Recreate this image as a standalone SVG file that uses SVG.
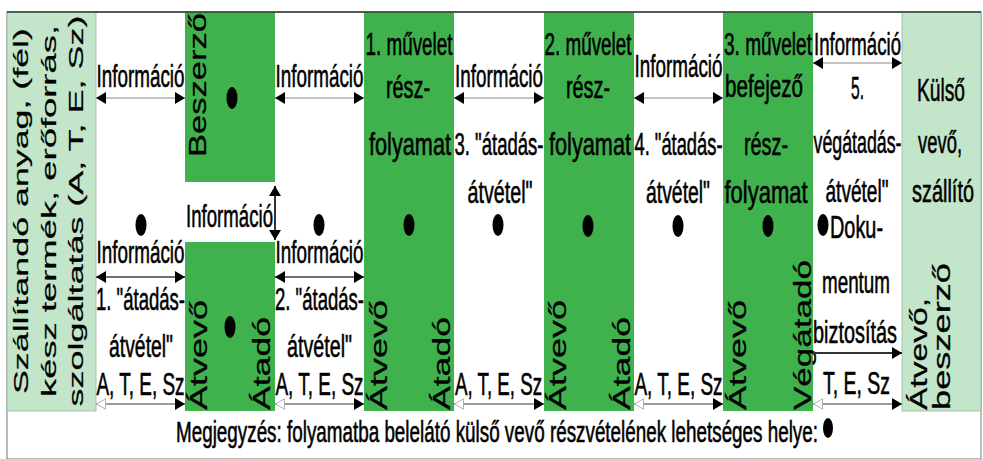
<svg xmlns="http://www.w3.org/2000/svg" width="983" height="459" viewBox="0 0 983 459">
<style>
text{font-family:"Liberation Sans",Arial,sans-serif;fill:#000}
.h{font-size:32px;text-anchor:middle;stroke:#000;stroke-width:0.6}
.v{font-size:23px;stroke:#000;stroke-width:0.25}
.c0{font-size:19.5px;text-anchor:middle;stroke:#000;stroke-width:0.2}
.g{fill:#3fb24e}
.lg{fill:#c3e6ca;stroke:#9ab59f;stroke-width:0.8}
.dot{fill:#000}
.at{stroke:#c4c4c4;stroke-width:2;fill:none}
.am{stroke:#707070;stroke-width:2;fill:none}
.ab{stroke:#9a9a9a;stroke-width:2;fill:none}
.ad{stroke:#333;stroke-width:2;fill:none}
</style>
<defs>
<marker id="ah" viewBox="0 0 10 12" refX="10" refY="6" markerWidth="10" markerHeight="12" orient="auto-start-reverse" markerUnits="userSpaceOnUse"><path d="M0,0 L10,6 L0,12 z" fill="#000"/></marker>
<marker id="ahh" viewBox="0 0 10 12" refX="10" refY="6" markerWidth="10" markerHeight="12" orient="auto-start-reverse" markerUnits="userSpaceOnUse"><path d="M0.5,0.8 L9.5,6 L0.5,11.2 z" fill="#fff" stroke="#b0b0b0" stroke-width="1"/></marker>
</defs>
<rect x="0" y="0" width="983" height="459" fill="#fff"/>
<rect x="7" y="12" width="974" height="447" fill="none" stroke="#777" stroke-width="1"/>

<g id="col0">
<rect class="lg" x="7" y="12" width="89" height="399"/>
<text class="c0" transform="translate(28,211) rotate(-90)" textLength="366" lengthAdjust="spacingAndGlyphs">Szállítandó anyag, (fél)</text>
<text class="c0" transform="translate(55.5,211) rotate(-90)" textLength="372" lengthAdjust="spacingAndGlyphs">kész termék, erőforrás,</text>
<text class="c0" transform="translate(83,211) rotate(-90)" textLength="391" lengthAdjust="spacingAndGlyphs">szolgáltatás (A, T, E, Sz)</text>
</g>

<g id="col1">
<text class="h" x="140.5" y="87" textLength="88" lengthAdjust="spacingAndGlyphs">Információ</text>
<ellipse class="dot" cx="141" cy="225" rx="5.5" ry="11"/>
<text class="h" x="140.5" y="263" textLength="88" lengthAdjust="spacingAndGlyphs">Információ</text>
<text class="h" x="140.5" y="310" textLength="89" lengthAdjust="spacingAndGlyphs">1. "átadás-</text>
<text class="h" x="141" y="357" textLength="64" lengthAdjust="spacingAndGlyphs">átvétel"</text>
<text class="h" x="140.5" y="395" textLength="88" lengthAdjust="spacingAndGlyphs">A, T, E, Sz</text>
</g>

<g id="col2">
<rect class="g" x="185" y="12" width="90" height="170"/>
<rect class="g" x="185" y="242" width="90" height="169"/>
<text class="v" transform="translate(206,157) rotate(-90)" textLength="144" lengthAdjust="spacingAndGlyphs">Beszerző</text>
<ellipse class="dot" cx="232" cy="98" rx="5.5" ry="11"/>
<text class="h" x="229.5" y="227" textLength="87" lengthAdjust="spacingAndGlyphs">Információ</text>
<ellipse class="dot" cx="230" cy="327" rx="5.5" ry="11"/>
<text class="v" transform="translate(207,410) rotate(-90)" textLength="110" lengthAdjust="spacingAndGlyphs">Átvevő</text>
<text class="v" transform="translate(270,410) rotate(-90)" textLength="93" lengthAdjust="spacingAndGlyphs">Átadó</text>
</g>

<g id="col3">
<text class="h" x="319.5" y="87" textLength="88" lengthAdjust="spacingAndGlyphs">Információ</text>
<ellipse class="dot" cx="319" cy="225" rx="5.5" ry="11"/>
<text class="h" x="319.5" y="263" textLength="88" lengthAdjust="spacingAndGlyphs">Információ</text>
<text class="h" x="319.5" y="310" textLength="89" lengthAdjust="spacingAndGlyphs">2. "átadás-</text>
<text class="h" x="319.5" y="357" textLength="65" lengthAdjust="spacingAndGlyphs">átvétel"</text>
<text class="h" x="319.5" y="395" textLength="88" lengthAdjust="spacingAndGlyphs">A, T, E, Sz</text>
</g>

<g id="col4">
<rect class="g" x="364" y="12" width="90" height="399"/>
<text class="h" x="409" y="55" textLength="87" lengthAdjust="spacingAndGlyphs">1. művelet</text>
<text class="h" x="408" y="98" textLength="44" lengthAdjust="spacingAndGlyphs">rész-</text>
<text class="h" x="410" y="155" textLength="82" lengthAdjust="spacingAndGlyphs">folyamat</text>
<ellipse class="dot" cx="409" cy="225" rx="5.5" ry="11"/>
<text class="v" transform="translate(387,410) rotate(-90)" textLength="110" lengthAdjust="spacingAndGlyphs">Átvevő</text>
<text class="v" transform="translate(450,410) rotate(-90)" textLength="93" lengthAdjust="spacingAndGlyphs">Átadó</text>
</g>

<g id="col5">
<text class="h" x="499" y="87" textLength="88" lengthAdjust="spacingAndGlyphs">Információ</text>
<text class="h" x="499" y="155" textLength="89" lengthAdjust="spacingAndGlyphs">3. "átadás-</text>
<text class="h" x="500" y="203" textLength="65" lengthAdjust="spacingAndGlyphs">átvétel"</text>
<ellipse class="dot" cx="498" cy="225" rx="5.5" ry="11"/>
<text class="h" x="498.5" y="395" textLength="87" lengthAdjust="spacingAndGlyphs">A, T, E, Sz</text>
</g>

<g id="col6">
<rect class="g" x="544" y="12" width="90" height="399"/>
<text class="h" x="588" y="55" textLength="87" lengthAdjust="spacingAndGlyphs">2. művelet</text>
<text class="h" x="588" y="98" textLength="44" lengthAdjust="spacingAndGlyphs">rész-</text>
<text class="h" x="590" y="155" textLength="82" lengthAdjust="spacingAndGlyphs">folyamat</text>
<ellipse class="dot" cx="588" cy="226" rx="5.5" ry="11"/>
<text class="v" transform="translate(566,410) rotate(-90)" textLength="110" lengthAdjust="spacingAndGlyphs">Átvevő</text>
<text class="v" transform="translate(630,410) rotate(-90)" textLength="93" lengthAdjust="spacingAndGlyphs">Átadó</text>
</g>

<g id="col7">
<text class="h" x="678.5" y="77" textLength="88" lengthAdjust="spacingAndGlyphs">Információ</text>
<text class="h" x="678.5" y="155" textLength="88" lengthAdjust="spacingAndGlyphs">4. "átadás-</text>
<text class="h" x="678" y="203" textLength="64" lengthAdjust="spacingAndGlyphs">átvétel"</text>
<ellipse class="dot" cx="678" cy="226" rx="5.5" ry="11"/>
<text class="h" x="678.5" y="395" textLength="88" lengthAdjust="spacingAndGlyphs">A, T, E, Sz</text>
</g>

<g id="col8">
<rect class="g" x="723" y="12" width="90" height="399"/>
<text class="h" x="768" y="55" textLength="88" lengthAdjust="spacingAndGlyphs">3. művelet</text>
<text class="h" x="764" y="97" textLength="78" lengthAdjust="spacingAndGlyphs">befejező</text>
<text class="h" x="766" y="155" textLength="44" lengthAdjust="spacingAndGlyphs">rész-</text>
<text class="h" x="766" y="203" textLength="83" lengthAdjust="spacingAndGlyphs">folyamat</text>
<ellipse class="dot" cx="768" cy="226" rx="5.5" ry="11"/>
<text class="v" transform="translate(746,410) rotate(-90)" textLength="110" lengthAdjust="spacingAndGlyphs">Átvevő</text>
<text class="v" transform="translate(811,410) rotate(-90)" textLength="150" lengthAdjust="spacingAndGlyphs">Végátadó</text>
</g>

<g id="col9">
<text class="h" x="857.5" y="55" textLength="87" lengthAdjust="spacingAndGlyphs">Információ</text>
<text class="h" x="857.5" y="99" textLength="13" lengthAdjust="spacingAndGlyphs">5.</text>
<text class="h" x="857.5" y="153" textLength="88" lengthAdjust="spacingAndGlyphs">végátadás-</text>
<text class="h" x="857" y="202" textLength="63" lengthAdjust="spacingAndGlyphs">átvétel"</text>
<ellipse class="dot" cx="823" cy="225" rx="5.5" ry="11"/>
<text class="h" x="856.5" y="238" textLength="53" lengthAdjust="spacingAndGlyphs">Doku-</text>
<text class="h" x="856" y="293" textLength="68" lengthAdjust="spacingAndGlyphs">mentum</text>
<text class="h" x="855" y="343" textLength="84" lengthAdjust="spacingAndGlyphs">biztosítás</text>
<text class="h" x="856.5" y="394" textLength="67" lengthAdjust="spacingAndGlyphs">T, E, Sz</text>
</g>

<g id="col10">
<rect class="lg" x="902" y="12" width="79" height="399"/>
<text class="h" x="941" y="101" textLength="48" lengthAdjust="spacingAndGlyphs">Külső</text>
<text class="h" x="940" y="153" textLength="44" lengthAdjust="spacingAndGlyphs">vevő,</text>
<text class="h" x="943" y="202" textLength="62" lengthAdjust="spacingAndGlyphs">szállító</text>
<text class="v" transform="translate(927,410) rotate(-90)" textLength="112" lengthAdjust="spacingAndGlyphs">Átvevő,</text>
<text class="v" transform="translate(950,410) rotate(-90)" textLength="147" lengthAdjust="spacingAndGlyphs">beszerző</text>
</g>

<g id="note">
<text x="176" y="442" font-size="30" stroke="#000" stroke-width="0.6" textLength="642" lengthAdjust="spacingAndGlyphs">Megjegyzés: folyamatba belelátó külső vevő részvételének lehetséges helye:</text>
<ellipse class="dot" cx="828" cy="428" rx="5" ry="10"/>
</g>

<g id="connectors">
<line class="at" x1="96" y1="98" x2="185" y2="98" marker-start="url(#ah)" marker-end="url(#ah)"/>
<line class="at" x1="275" y1="98" x2="364" y2="98" marker-start="url(#ah)" marker-end="url(#ah)"/>
<line class="at" x1="454" y1="98" x2="544" y2="98" marker-start="url(#ah)" marker-end="url(#ah)"/>
<line class="at" x1="634" y1="98" x2="723" y2="98" marker-start="url(#ah)" marker-end="url(#ah)"/>
<line class="at" x1="813" y1="63" x2="902" y2="63" marker-start="url(#ah)" marker-end="url(#ah)"/>
<line class="am" x1="96" y1="277" x2="185" y2="277" marker-start="url(#ah)" marker-end="url(#ah)"/>
<line class="am" x1="275" y1="277" x2="364" y2="277" marker-start="url(#ah)" marker-end="url(#ah)"/>
<line class="ad" x1="275" y1="186" x2="275" y2="240" marker-start="url(#ah)" marker-end="url(#ah)"/>
<line class="ad" x1="813" y1="353" x2="902" y2="353" marker-end="url(#ah)"/>
<line class="ab" x1="96" y1="404" x2="185" y2="404" marker-start="url(#ahh)" marker-end="url(#ah)"/>
<line class="ab" x1="275" y1="404" x2="364" y2="404" marker-start="url(#ahh)" marker-end="url(#ah)"/>
<line class="ab" x1="454" y1="404" x2="544" y2="404" marker-start="url(#ahh)" marker-end="url(#ah)"/>
<line class="ab" x1="634" y1="404" x2="723" y2="404" marker-start="url(#ahh)" marker-end="url(#ah)"/>
<line class="ab" x1="813" y1="404" x2="902" y2="404" marker-start="url(#ahh)" marker-end="url(#ah)"/>
</g>
<line x1="7" y1="12" x2="981" y2="12" stroke="#2e3e30" stroke-width="1.5"/>
</svg>
